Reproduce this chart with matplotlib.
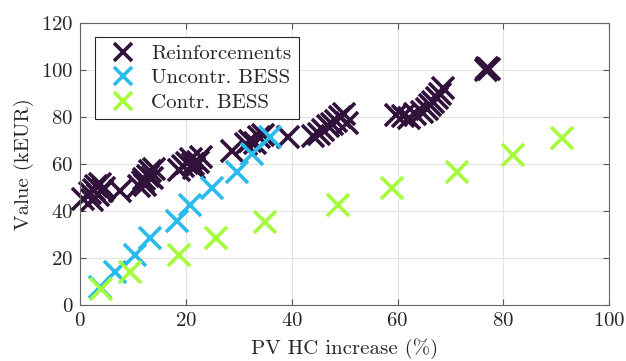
import matplotlib
matplotlib.use("Agg")
import matplotlib.pyplot as plt

# PV hosting capacity increase (%) vs cost (kEUR) for each option
reinf_x = [0.6, 1.8, 2.2, 2.6, 3.0, 3.4, 3.8, 4.2, 4.6, 7.5,
           11.2, 11.8, 12.3, 12.8, 13.2, 13.6, 12.0, 13.9,
           18.6, 19.4, 20.2, 20.9, 21.6, 22.3, 22.9, 21.3,
           28.7, 31.4, 32.2, 33.0, 33.8, 34.5,
           39.3,
           44.0, 45.1, 46.0, 46.9, 47.7, 48.4, 49.1, 49.8, 50.4,
           59.8, 61.0, 62.2, 63.3,
           64.6, 65.5, 66.2, 66.8, 67.4, 68.0, 68.6,
           76.7, 77.0, 77.3]
reinf_y = [45.0, 47.5, 44.5, 49.0, 50.5, 47.0, 51.5, 48.5, 50.0, 48.5,
           50.5, 52.5, 51.0, 55.0, 57.0, 54.0, 53.5, 58.0,
           57.5, 59.0, 60.5, 62.0, 58.5, 61.0, 63.0, 60.0,
           65.5, 68.5, 70.0, 69.0, 71.5, 72.5,
           71.5,
           72.0, 73.0, 74.5, 76.0, 77.0, 78.5, 80.0, 81.5, 77.5,
           81.0, 80.5, 79.5, 81.5,
           82.0, 83.5, 85.0, 86.5, 88.0, 90.0, 92.5,
           100.0, 101.0, 100.5]

unc_x = [3.8, 6.6, 10.4, 13.2, 18.3, 20.8, 25.0, 29.7, 32.5, 35.9]
unc_y = [7.5, 14.0, 21.5, 28.5, 35.7, 42.5, 49.8, 56.8, 64.5, 71.5]

con_x = [4.0, 9.5, 18.7, 25.7, 35.0, 48.8, 59.0, 71.3, 81.9, 91.1]
con_y = [7.0, 14.0, 21.3, 28.5, 35.3, 42.7, 50.0, 56.8, 64.0, 71.0]

labels = ["Reinforcements", "Uncontr. BESS", "Contr. BESS"]
colors = ["#30123b", "#29bbec", "#a4fc3c"]

plt.rcParams["font.family"] = "serif"
plt.rcParams["font.serif"] = ["cmr10"]
plt.rcParams["mathtext.fontset"] = "cm"
plt.rcParams["axes.formatter.use_mathtext"] = True
plt.rcParams["font.size"] = 15

fig = plt.figure(figsize=(6.26, 3.61), dpi=100)
ax = fig.add_axes([0.128, 0.155, 0.845, 0.781])

ms = 16
mew = 2.6
ax.plot(reinf_x, reinf_y, "x", color=colors[0], ms=ms, mew=mew, label=labels[0], clip_on=False)
ax.plot(unc_x, unc_y, "x", color=colors[1], ms=ms, mew=mew, label=labels[1], clip_on=False)
ax.plot(con_x, con_y, "x", color=colors[2], ms=ms, mew=mew, label=labels[2], clip_on=False)

ax.set_xlim(0, 100)
ax.set_ylim(0, 120)
ax.set_xticks(range(0, 101, 20))
ax.set_yticks(range(0, 121, 20))
ax.grid(True, color="#e3e3e3", lw=0.8)
ax.set_axisbelow(True)
ax.tick_params(direction="in", top=True, right=True, length=4, pad=5,
               colors="#555555", labelcolor="#262626", width=0.8)
for s in ax.spines.values():
    s.set_color("#666666")
    s.set_linewidth(0.8)

ax.set_xlabel("PV HC increase (%)", color="#262626", labelpad=6)
ax.set_ylabel("Value (kEUR)", color="#262626", labelpad=5)

leg = ax.legend(loc="upper left", bbox_to_anchor=(0.028, 0.95), borderaxespad=0,
                fancybox=False, framealpha=1, edgecolor="#262626",
                handlelength=2.0, handletextpad=0.35, labelspacing=0.28,
                borderpad=0.35, markerscale=0.85)
leg.get_frame().set_linewidth(0.8)
for t in leg.get_texts():
    t.set_color("#262626")

fig.savefig("out.png", dpi=100)
